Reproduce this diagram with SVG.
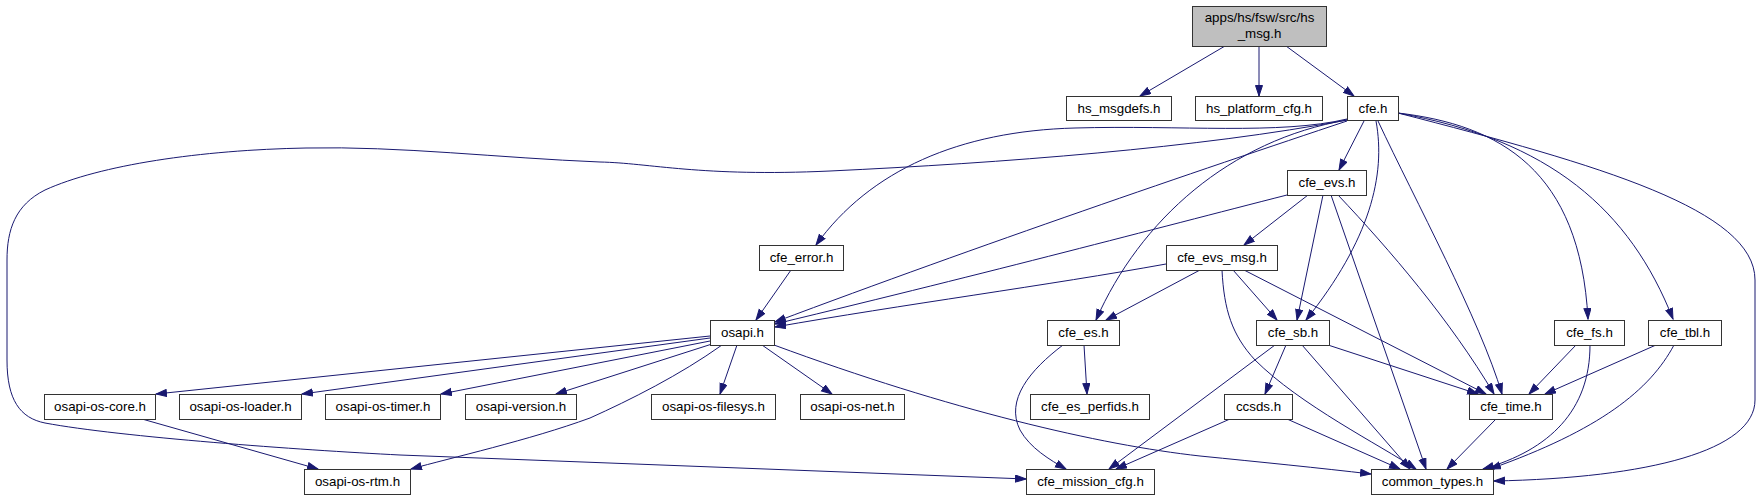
<svg xmlns="http://www.w3.org/2000/svg" width="1763" height="500" viewBox="0 0 1763 500">
<style>
.n rect{fill:#ffffff;stroke:#333333;stroke-width:1}
.n text{font-family:"Liberation Sans",Arial,sans-serif;font-size:13.33px;fill:#000000;text-anchor:middle}
#edges path{fill:none;stroke:#191970;stroke-width:1;marker-end:url(#ah)}
</style>
<defs>
<marker id="ah" markerUnits="userSpaceOnUse" markerWidth="12" markerHeight="9" refX="11" refY="4" orient="auto">
<path d="M0.5,0.5 L11,4 L0.5,7.5 z" fill="#191970" stroke="#191970" stroke-width="1"/>
</marker>
</defs>
<rect width="1763" height="500" fill="#ffffff"/>
<g id="edges">
<path d="M1225,46 L1140,96"/>
<path d="M1259,46 L1259,96"/>
<path d="M1286,46 L1354,96"/>
<path d="M1347,119 C1280,135 1180,125 1075,128 C960,131 870,170 816,245"/>
<path d="M1347,120 C1200,148 1000,163 830,171 C700,177 650,163 600,162 C500,158 400,146 306,148 C200,150 100,165 45,190 C15,205 7,230 7,260 L7,360 C7,400 20,418 45,423 C120,437 300,450 400,455 L1026,479"/>
<path d="M1347,121 C1200,170 980,245 775,322"/>
<path d="M1364,121 L1339,170"/>
<path d="M1347,120 C1230,140 1140,220 1096,320"/>
<path d="M1376,121 C1386,175 1370,240 1306,320"/>
<path d="M1378,121 C1415,200 1480,320 1502,394"/>
<path d="M1398,113 C1500,125 1580,170 1588,319"/>
<path d="M1398,113 C1550,140 1630,210 1673,319"/>
<path d="M1398,113 C1600,165 1755,210 1755,280 L1755,400 C1755,450 1650,478 1494,481"/>
<path d="M791,270 L756,320"/>
<path d="M1287,195 C1150,230 1000,270 775,324"/>
<path d="M1308,195 L1244,245"/>
<path d="M1323,195 L1297,320"/>
<path d="M1331,195 L1426,469"/>
<path d="M1338,195 C1390,250 1450,320 1494,394"/>
<path d="M1166,264 C1050,285 900,305 775,327"/>
<path d="M1200,270 L1106,320"/>
<path d="M1233,270 L1277,320"/>
<path d="M1244,270 L1486,394"/>
<path d="M1222,270 C1224,310 1232,335 1255,360 C1300,405 1380,445 1416,469"/>
<path d="M710,336 L156,394"/>
<path d="M710,338 L302,394"/>
<path d="M710,341 L441,394"/>
<path d="M712,344 L556,394"/>
<path d="M737,345 L720,394"/>
<path d="M762,345 L832,394"/>
<path d="M722,345 C680,375 630,400 590,418 C530,440 450,458 411,469"/>
<path d="M774,345 C950,410 1100,445 1200,456 C1260,462 1320,468 1371,474"/>
<path d="M142,419 L318,469"/>
<path d="M1084,345 L1087,394"/>
<path d="M1063,345 C1030,370 1005,400 1020,430 C1030,448 1050,460 1066,469"/>
<path d="M1286,345 L1265,394"/>
<path d="M1275,345 L1109,469"/>
<path d="M1302,345 L1410,469"/>
<path d="M1328,345 L1478,394"/>
<path d="M1230,419 L1116,469"/>
<path d="M1287,419 L1400,469"/>
<path d="M1496,419 L1447,469"/>
<path d="M1576,345 L1529,394"/>
<path d="M1590,345 C1590,410 1550,450 1483,469"/>
<path d="M1656,345 L1545,394"/>
<path d="M1674,345 C1650,390 1600,430 1490,469"/>
</g>
<g id="main" class="n"><rect x="1192.5" y="6.5" width="134" height="40" style="fill:#bfbfbf"/><text x="1259.5" y="22">apps/hs/fsw/src/hs</text><text x="1259.5" y="38">_msg.h</text></g>
<g id="hs_msgdefs" class="n"><rect x="1066.5" y="96.5" width="105" height="24"/><text x="1119" y="113">hs_msgdefs.h</text></g>
<g id="hs_platform_cfg" class="n"><rect x="1195.5" y="96.5" width="127" height="24"/><text x="1259" y="113">hs_platform_cfg.h</text></g>
<g id="cfe" class="n"><rect x="1347.5" y="96.5" width="51" height="24"/><text x="1373" y="113">cfe.h</text></g>
<g id="cfe_evs" class="n"><rect x="1287.5" y="170.5" width="79" height="25"/><text x="1327" y="187">cfe_evs.h</text></g>
<g id="cfe_error" class="n"><rect x="759.5" y="245.5" width="84" height="25"/><text x="801.5" y="262">cfe_error.h</text></g>
<g id="cfe_evs_msg" class="n"><rect x="1166.5" y="245.5" width="111" height="25"/><text x="1222" y="262">cfe_evs_msg.h</text></g>
<g id="osapi" class="n"><rect x="710.5" y="320.5" width="64" height="25"/><text x="742.5" y="337">osapi.h</text></g>
<g id="cfe_es" class="n"><rect x="1047.5" y="320.5" width="72" height="25"/><text x="1083.5" y="337">cfe_es.h</text></g>
<g id="cfe_sb" class="n"><rect x="1256.5" y="320.5" width="73" height="25"/><text x="1293" y="337">cfe_sb.h</text></g>
<g id="cfe_fs" class="n"><rect x="1554.5" y="320.5" width="70" height="25"/><text x="1589.5" y="337">cfe_fs.h</text></g>
<g id="cfe_tbl" class="n"><rect x="1648.5" y="320.5" width="73" height="25"/><text x="1685" y="337">cfe_tbl.h</text></g>
<g id="osapi_os_core" class="n"><rect x="44.5" y="394.5" width="111" height="25"/><text x="100" y="411">osapi-os-core.h</text></g>
<g id="osapi_os_loader" class="n"><rect x="179.5" y="394.5" width="122" height="25"/><text x="240.5" y="411">osapi-os-loader.h</text></g>
<g id="osapi_os_timer" class="n"><rect x="325.5" y="394.5" width="115" height="25"/><text x="383" y="411">osapi-os-timer.h</text></g>
<g id="osapi_version" class="n"><rect x="465.5" y="394.5" width="111" height="25"/><text x="521" y="411">osapi-version.h</text></g>
<g id="osapi_os_filesys" class="n"><rect x="651.5" y="394.5" width="124" height="25"/><text x="713.5" y="411">osapi-os-filesys.h</text></g>
<g id="osapi_os_net" class="n"><rect x="800.5" y="394.5" width="104" height="25"/><text x="852.5" y="411">osapi-os-net.h</text></g>
<g id="cfe_es_perfids" class="n"><rect x="1030.5" y="394.5" width="119" height="25"/><text x="1090" y="411">cfe_es_perfids.h</text></g>
<g id="ccsds" class="n"><rect x="1224.5" y="394.5" width="68" height="25"/><text x="1258.5" y="411">ccsds.h</text></g>
<g id="cfe_time" class="n"><rect x="1469.5" y="394.5" width="83" height="25"/><text x="1511" y="411">cfe_time.h</text></g>
<g id="osapi_os_rtm" class="n"><rect x="304.5" y="469.5" width="106" height="25"/><text x="357.5" y="486">osapi-os-rtm.h</text></g>
<g id="cfe_mission_cfg" class="n"><rect x="1026.5" y="469.5" width="128" height="25"/><text x="1090.5" y="486">cfe_mission_cfg.h</text></g>
<g id="common_types" class="n"><rect x="1371.5" y="469.5" width="122" height="25"/><text x="1432.5" y="486">common_types.h</text></g>
</svg>
